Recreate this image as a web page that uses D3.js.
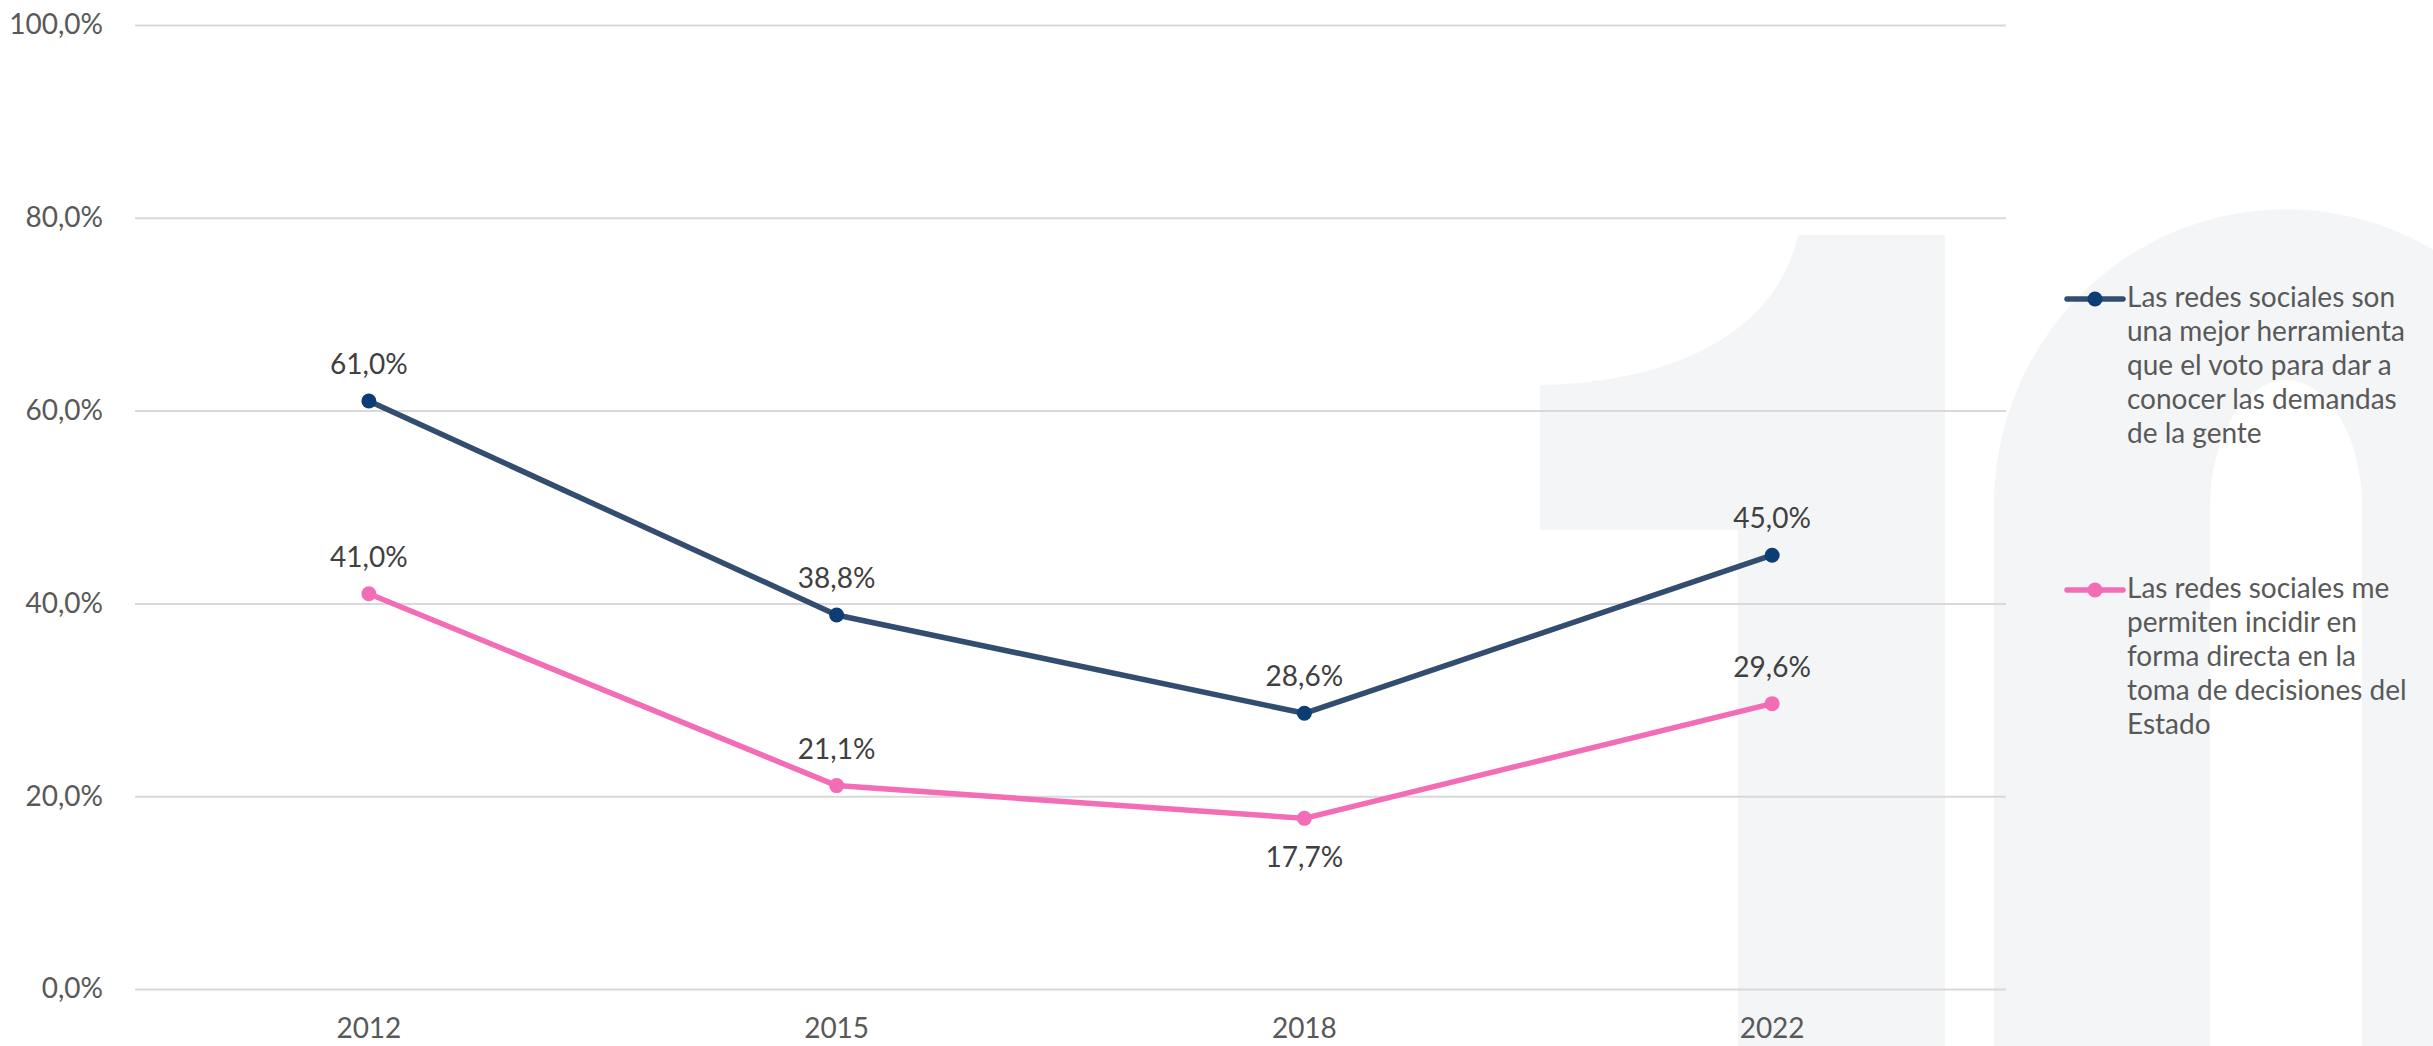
<!DOCTYPE html>
<html>
<head>
<meta charset="utf-8">
<script src="https://cdn.jsdelivr.net/npm/d3@7"></script>
<style>
  body { margin: 0; background: #fff; }
  svg text { font-family: Lato, "Open Sans", sans-serif; }
</style>
</head>
<body>
<div id="chart"></div>
<script>
// values
const years = ["2012", "2015", "2018", "2022"];
const seriesNames = [
  "Las redes sociales son una mejor herramienta que el voto para dar a conocer las demandas de la gente",
  "Las redes sociales me permiten incidir en forma directa en la toma de decisiones del Estado"
];
const legendLines = [
  ["Las redes sociales son", "una mejor herramienta", "que el voto para dar a", "conocer las demandas", "de la gente"],
  ["Las redes sociales me", "permiten incidir en", "forma directa en la", "toma de decisiones del", "Estado"]
];
const redesVoto = [0.610, 0.388, 0.286, 0.450];
const redesIncidir = [0.410, 0.211, 0.177, 0.296];
const yTicks = [0, 0.2, 0.4, 0.6, 0.8, 1.0];

const width = 2433, height = 1046;
const plot = { left: 135, right: 2006, top: 25, bottom: 989 };

const lineColors = ["#324d6f", "#f36cb6"];
const dotColors = ["#0c3e75", "#f36cb6"];

const es = d3.formatLocale({ decimal: ",", thousands: ".", grouping: [3], currency: ["", "€"] });
const pct = es.format(".1%");

const svg = d3.select("#chart").append("svg")
  .attr("width", width)
  .attr("height", height);

// big light "10" in the background
const wm = svg.append("g").attr("fill", "#f4f5f7");
wm.append("path")
  .attr("d", "M1798,235 L1945,235 L1945,1046 L1738,1046 L1738,530 L1540,530 L1540,385 C1660,383 1775,340 1798,235 Z");
wm.append("path")
  .attr("fill-rule", "evenodd")
  .attr("d", "M1994,1046 L1994,505 A292,296 0 0 1 2578,505 L2578,1046 Z " +
             "M2210,1046 L2210,507 A76,127 0 0 1 2362,507 L2362,1046 Z");

const x = d3.scaleBand().domain(years).range([plot.left, plot.right]);
const y = d3.scaleLinear().domain([0, 1]).range([plot.bottom, plot.top]);

// y axis with gridlines
const yAxis = svg.append("g")
  .attr("transform", `translate(${plot.left},0)`)
  .call(d3.axisLeft(y).tickValues(yTicks).tickFormat(pct)
    .tickSize(-(plot.right - plot.left)).tickPadding(32));
yAxis.select(".domain").remove();
yAxis.selectAll(".tick line").attr("stroke", "#d9d9d9").attr("stroke-width", 2);
yAxis.selectAll(".tick text").attr("fill", "#595959").style("font-size", "28px");

// x axis labels
const xAxis = svg.append("g")
  .attr("transform", `translate(0,${plot.bottom})`)
  .call(d3.axisBottom(x).tickSize(0).tickPadding(29));
xAxis.select(".domain").remove();
xAxis.selectAll(".tick text").attr("fill", "#595959").style("font-size", "28px");

const series = [redesVoto, redesIncidir];
const line = d3.line()
  .x((d, i) => x(years[i]) + x.bandwidth() / 2)
  .y(d => y(d));

series.forEach((vals, s) => {
  const g = svg.append("g");
  g.append("path")
    .datum(vals)
    .attr("fill", "none")
    .attr("stroke", lineColors[s])
    .attr("stroke-width", 5.5)
    .attr("stroke-linejoin", "round")
    .attr("d", line);
  g.selectAll("circle")
    .data(vals)
    .enter()
    .append("circle")
    .attr("cx", (d, i) => x(years[i]) + x.bandwidth() / 2)
    .attr("cy", d => y(d))
    .attr("r", 7.5)
    .attr("fill", dotColors[s]);
  g.selectAll("text")
    .data(vals)
    .enter()
    .append("text")
    .attr("x", (d, i) => x(years[i]) + x.bandwidth() / 2)
    .attr("y", (d, i) => (s === 1 && i === 2) ? y(d) + 49 : y(d) - 27)
    .attr("text-anchor", "middle")
    .attr("fill", "#404040")
    .style("font-size", "28px")
    .text(d => pct(d));
});

// legend
const legendTop = [307, 598];
seriesNames.forEach((name, s) => {
  const lg = svg.append("g").attr("class", "legend-item");
  const cy = legendTop[s] - 8;
  lg.append("line")
    .attr("x1", 2067).attr("x2", 2123)
    .attr("y1", cy).attr("y2", cy)
    .attr("stroke", lineColors[s])
    .attr("stroke-width", 5.5)
    .attr("stroke-linecap", "round");
  lg.append("circle")
    .attr("cx", 2095).attr("cy", cy).attr("r", 7.5)
    .attr("fill", dotColors[s]);
  lg.append("title").text(name);
  lg.selectAll("text.lbl")
    .data(legendLines[s])
    .enter()
    .append("text")
    .attr("class", "lbl")
    .attr("x", 2127)
    .attr("y", (d, i) => legendTop[s] + i * 34)
    .attr("fill", "#595959")
    .style("font-size", "28px")
    .text(d => d);
});
</script>
</body>
</html>
